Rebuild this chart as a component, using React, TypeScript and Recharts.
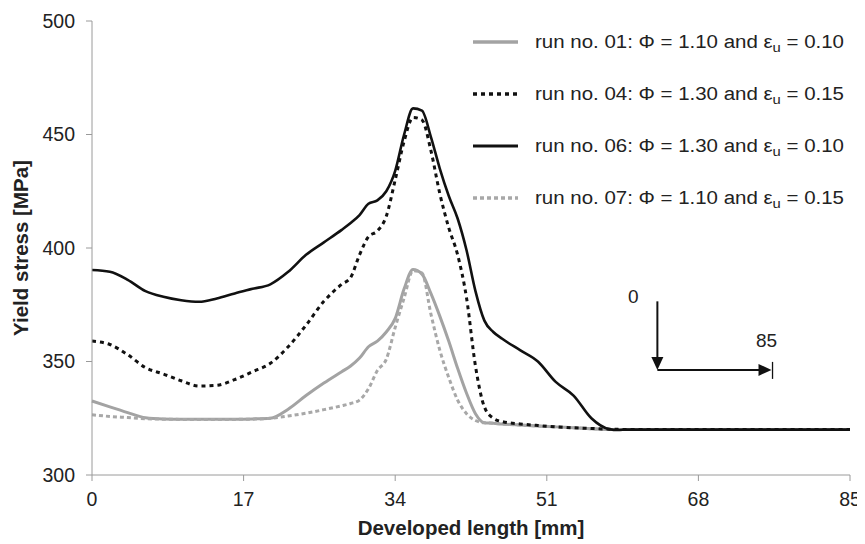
import React from "react";
import { LineChart, Line, XAxis, YAxis, Legend, ReferenceLine } from "recharts";

const xs = [0, 2, 4, 6, 8, 10, 12, 14, 16, 18, 20, 22, 24, 26, 28, 29, 30, 31, 32, 33, 34, 35, 36, 37, 38, 39, 40, 41, 42, 43, 44, 45, 46, 48, 50, 52, 54, 56, 58, 59, 60, 65, 70, 75, 80, 85];

const run01 = [332.6, 330, 327.5, 325.2, 324.7, 324.6, 324.6, 324.6, 324.6, 324.7, 325, 329, 335, 340.5, 345.5, 348, 351.5, 356.5, 359, 363, 369, 382, 390.5, 388.5, 380, 370, 359, 347, 336, 327, 323, 322.8, 322.5, 322, 321.6, 321.2, 320.8, 320.4, 320, 320, 320, 320, 320, 320, 320, 320];
const run04 = [359, 357.5, 353, 347.3, 344.5, 341.5, 339.2, 339.5, 342, 345.5, 349.2, 356.5, 366, 376.5, 384, 387, 397, 405, 407.5, 414, 430, 447, 457.5, 456.4, 443, 424, 409, 397, 378, 348, 330, 325, 323.5, 322.5, 321.8, 321.2, 320.8, 320.5, 320.2, 320.1, 320, 320, 320, 320, 320, 320];
const run06 = [390.3, 389.5, 386, 381, 378.5, 377, 376.3, 377.8, 380, 382, 384, 389.5, 397, 402.5, 408, 411, 414.5, 419.5, 421, 425, 434, 450, 461.5, 460.5, 449, 435, 423, 413, 399, 381, 368, 363, 360, 355, 350, 341, 335, 325, 320.2, 319.8, 320, 320, 320, 320, 320, 320];
const run07 = [326.5, 325.8, 325.3, 324.8, 324.6, 324.5, 324.5, 324.5, 324.5, 324.6, 325, 326, 327.2, 328.8, 330.5, 331.5, 333, 338, 346, 351, 365, 378, 390, 389, 371, 355, 343, 333, 327, 324, 323, 322.8, 322.5, 322, 321.6, 321.2, 320.8, 320.4, 320, 320, 320, 320, 320, 320, 320, 320];

const xTicks = [0, 17, 34, 51, 68, 85];
const yTicks = [300, 350, 400, 450, 500];

const legendItems = [
  { key: "r01", run: "01", phi: "1.10", eps: "0.10" },
  { key: "r04", run: "04", phi: "1.30", eps: "0.15" },
  { key: "r06", run: "06", phi: "1.30", eps: "0.10" },
  { key: "r07", run: "07", phi: "1.10", eps: "0.15" },
];

// annotation (data coordinates)
const arrowTop = { x: 63.4, y: 376.5 };
const arrowCorner = { x: 63.4, y: 346.3 };
const arrowEnd = { x: 76.2, y: 346.3 };

const data = xs.map((x, i) => ({ x, r01: run01[i], r04: run04[i], r06: run06[i], r07: run07[i] }));

const styles: Record<string, { stroke: string; width: number; dash?: string }> = {
  r01: { stroke: "#a3a3a3", width: 3 },
  r04: { stroke: "#111111", width: 3, dash: "4 4" },
  r06: { stroke: "#111111", width: 2.6 },
  r07: { stroke: "#a8a8a8", width: 3, dash: "4 3" },
};

const FONT = "'Liberation Sans', Arial, sans-serif";

const LegendContent = () => (
  <svg width={400} height={200} style={{ display: "block" }}>
    {legendItems.map((it, i) => {
      const y = 22 + i * 52;
      const s = styles[it.key];
      return (
        <g key={it.key}>
          <line x1={10} x2={55} y1={y} y2={y} stroke={s.stroke} strokeWidth={s.width + 0.5} strokeDasharray={s.dash} />
          <text x={72} y={y} dominantBaseline="central" fontFamily={FONT} fontSize={18} fill="#222" textLength={309} lengthAdjust="spacingAndGlyphs">
            {`run no. ${it.run}: \u03A6 = ${it.phi} and \u03B5`}
            <tspan fontSize={13} dy={5}>u</tspan>
            <tspan dy={-5}>{` = ${it.eps}`}</tspan>
          </text>
        </g>
      );
    })}
  </svg>
);

const DownArrow = (p: any) => {
  const { x1, y1, x2, y2 } = p;
  return (
    <g>
      <line x1={x1} y1={y1} x2={x2} y2={y2 - 10} stroke="#111" strokeWidth={2} />
      <polygon points={`${x2 - 6},${y2 - 13} ${x2 + 6},${y2 - 13} ${x2},${y2}`} fill="#111" />
      <text x={x1 - 24} y={y1 - 5} textAnchor="middle" dominantBaseline="central" fontFamily={FONT} fontSize={19} fill="#222">0</text>
    </g>
  );
};

const RightArrow = (p: any) => {
  const { x1, y1, x2, y2 } = p;
  return (
    <g>
      <line x1={x1} y1={y1} x2={x2 - 10} y2={y2} stroke="#111" strokeWidth={2} />
      <polygon points={`${x2 - 13},${y2 - 6} ${x2 - 13},${y2 + 6} ${x2},${y2}`} fill="#111" />
      <line x1={x2 + 1} y1={y2 - 8} x2={x2 + 1} y2={y2 + 9} stroke="#111" strokeWidth={1.3} />
      <text x={x2 - 5} y={y2 - 29} textAnchor="middle" dominantBaseline="central" fontFamily={FONT} fontSize={19} fill="#222">85</text>
    </g>
  );
};

export default function App() {
  return (
    <div style={{ width: 857, height: 536, background: "#fff" }}>
      <LineChart width={857} height={536} data={data} margin={{ top: 13, right: 15, bottom: 9, left: 10 }}>
        <XAxis
          dataKey="x"
          type="number"
          domain={[0, 85]}
          ticks={xTicks}
          interval={0}
          stroke="#9a9a9a"
          tickSize={6}
          tickMargin={11}
          height={60}
          tick={{ fill: "#222", fontSize: 19.5, fontFamily: FONT }}
          label={{
            content: (props: any) => {
              const vb = props.viewBox || {};
              return (
                <text x={vb.x + vb.width / 2} y={vb.y + 52} textAnchor="middle" dominantBaseline="central" fontFamily={FONT} fontWeight="bold" fontSize={20.5} fill="#222">
                  Developed length [mm]
                </text>
              );
            },
          }}
        />
        <YAxis
          type="number"
          domain={[300, 500]}
          ticks={yTicks}
          interval={0}
          stroke="#9a9a9a"
          tickSize={6}
          tickMargin={11}
          width={74}
          tick={{ fill: "#222", fontSize: 19.5, fontFamily: FONT }}
          label={{
            content: (props: any) => {
              const vb = props.viewBox || {};
              const cx = vb.x + 2;
              const cy = vb.y + vb.height / 2;
              return (
                <text x={cx} y={cy} transform={`rotate(-90, ${cx}, ${cy})`} textAnchor="middle" dominantBaseline="central" fontFamily={FONT} fontWeight="bold" fontSize={20.5} fill="#222">
                  Yield stress [MPa]
                </text>
              );
            },
          }}
        />
        <Legend
          layout="vertical"
          align="center"
          verticalAlign="middle"
          wrapperStyle={{ left: 455, top: 12, width: 400 }}
          content={() => <LegendContent />}
        />
        {["r01", "r07", "r04", "r06"].map((k) => (
          <Line
            key={k}
            type="monotone"
            dataKey={k}
            stroke={styles[k].stroke}
            strokeWidth={styles[k].width}
            strokeDasharray={styles[k].dash}
            dot={false}
            activeDot={false}
            isAnimationActive={false}
          />
        ))}
        <ReferenceLine segment={[arrowTop, arrowCorner]} shape={DownArrow} ifOverflow="visible" />
        <ReferenceLine segment={[arrowCorner, arrowEnd]} shape={RightArrow} ifOverflow="visible" />
      </LineChart>
    </div>
  );
}
